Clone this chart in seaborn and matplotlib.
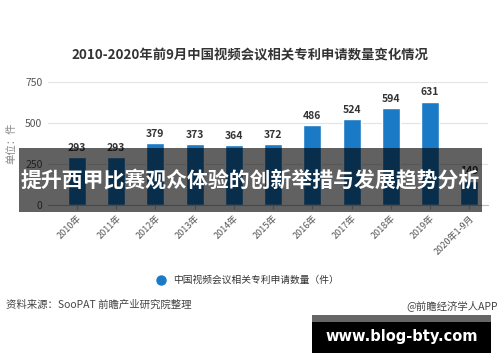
import numpy as np
import pandas as pd
import seaborn as sns
import matplotlib.pyplot as plt
from matplotlib.patches import Rectangle

years = ['2010年', '2011年', '2012年', '2013年', '2014年', '2015年',
         '2016年', '2017年', '2018年', '2019年', '2020年1-9月']
counts = [293, 293, 379, 373, 364, 372, 486, 524, 594, 631, 149]
yticks = [0, 250, 500, 750]

title = '2010-2020年前9月中国视频会议相关专利申请数量变化情况'
legend_label = '中国视频会议相关专利申请数量（件）'
overlay_text = '提升西甲比赛观众体验的创新举措与发展趋势分析'

sns.set_theme(style='white')
plt.rcParams['font.family'] = ['Noto Sans CJK SC', 'DejaVu Sans']

df = pd.DataFrame({'year': years, 'count': counts})

fig = plt.figure(figsize=(5, 3.62), dpi=100)
ax = fig.add_axes([0.096, 0.434, 0.88, 0.339])
sns.barplot(data=df, x='year', y='count', color='#1a7ac6', width=0.46,
            saturation=1, ax=ax)
for container in ax.containers:
    ax.bar_label(container, fmt='%d', padding=3, fontsize=7.5,
                 fontweight='bold', color='#333333')

ax.set_ylim(0, 750)
ax.set_xlim(-0.74, 10.48)
ax.set_yticks(yticks)
ax.yaxis.grid(True, color='#e3e3e3', linewidth=0.8)
ax.set_axisbelow(True)
for s in ['top', 'right', 'left']:
    ax.spines[s].set_visible(False)
ax.spines['bottom'].set_color('#bfbfbf')
ax.spines['bottom'].set_linewidth(0.8)
ax.tick_params(axis='y', labelsize=7.5, colors='#555555', length=0, pad=4)
ax.tick_params(axis='x', labelsize=6.5, colors='#555555', length=3,
               color='#bfbfbf', bottom=True, width=0.8)
plt.setp(ax.get_xticklabels(), rotation=45, ha='right', rotation_mode='anchor')
ax.set_xlabel('')
ax.set_ylabel('单位：件', fontsize=7.5, color='#888888', labelpad=6)

fig.text(0.5, 0.848, title, ha='center', va='center', fontsize=9.6,
         fontweight='bold', color='#333333')

# legend
fig.add_artist(plt.Line2D([0.322], [0.227], marker='o', markersize=6.5,
                          color='#1a7ac6', linestyle='none'))
fig.text(0.346, 0.227, legend_label, ha='left', va='center', fontsize=7,
         color='#333333')

fig.text(0.012, 0.157, '资料来源：SooPAT 前瞻产业研究院整理', ha='left',
         va='center', fontsize=7.5, color='#444444')
fig.text(0.996, 0.157, '@前瞻经济学人APP', ha='right', va='center',
         fontsize=7.5, color='#444444')

# dark overlay band with headline
fig.add_artist(Rectangle((0.038, 1 - 212 / 362), 0.926, 64 / 362,
                         transform=fig.transFigure, color='black',
                         alpha=0.62, linewidth=0))
fig.text(0.5, 1 - 181 / 362, overlay_text, ha='center', va='center',
         fontsize=15, fontweight='bold', color='white')

# site badge
fig.add_artist(Rectangle((0.624, 1 - 322 / 362), 0.358, 7 / 362,
                         transform=fig.transFigure, color='#666666',
                         linewidth=0))
fig.add_artist(Rectangle((0.624, 1 - 353 / 362), 0.358, 31 / 362,
                         transform=fig.transFigure, color='black',
                         linewidth=0))
fig.text(0.803, 1 - 337 / 362, 'www.blog-bty.com', ha='center', va='center',
         fontsize=10.5, fontweight='bold', color='white',
         family=['DejaVu Sans'])

fig.savefig('out.png', dpi=100)
